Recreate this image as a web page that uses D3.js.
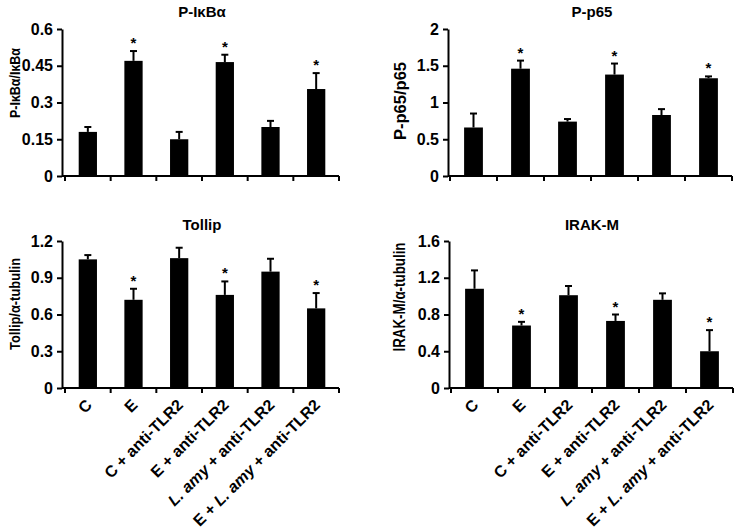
<!DOCTYPE html>
<html><head><meta charset="utf-8">
<script src="https://cdn.jsdelivr.net/npm/d3@7"></script>
<style>
body{margin:0;background:#fff;}
svg{display:block;font-family:"Liberation Sans",Arial,sans-serif;font-weight:bold;}
</style></head>
<body><svg id="c" width="739" height="529"></svg>
<script>
const categories = ["C","E","C + anti-TLR2","E + anti-TLR2","L. amy + anti-TLR2","E + L. amy + anti-TLR2"];
const significant = [false,true,false,true,false,true];

const pIkBaValues = [0.18,0.47,0.15,0.465,0.2,0.355];
const pIkBaErrors = [0.02,0.04,0.03,0.03,0.025,0.065];
const pIkBaTicks = [0,0.15,0.3,0.45,0.6];

const pp65Values = [0.66,1.46,0.74,1.38,0.83,1.33];
const pp65Errors = [0.19,0.11,0.035,0.15,0.08,0.025];
const pp65Ticks = [0,0.5,1,1.5,2];

const tollipValues = [1.05,0.72,1.06,0.76,0.95,0.65];
const tollipErrors = [0.035,0.09,0.085,0.11,0.105,0.125];
const tollipTicks = [0,0.3,0.6,0.9,1.2];

const irakmValues = [1.08,0.68,1.01,0.73,0.96,0.40];
const irakmErrors = [0.2,0.04,0.1,0.07,0.07,0.23];
const irakmTicks = [0,0.4,0.8,1.2,1.6];

const svg = d3.select("#c");

const panels = [
  {title:"P-IκBα", ylabel:"P-IκBα/IκBα", values:pIkBaValues, errors:pIkBaErrors, ticks:pIkBaTicks,
   ax:62, x0:65, x1:339, yTop:29, yBot:176, tx:202, ty:17, lx:15, ly:83, lsize:14.5, len:70, xlabels:false},
  {title:"P-p65", ylabel:"P-p65/p65", values:pp65Values, errors:pp65Errors, ticks:pp65Ticks,
   ax:448, x0:450, x1:732, yTop:29, yBot:176, tx:592, ty:17, lx:400, ly:101, lsize:17, len:78, xlabels:false},
  {title:"Tollip", ylabel:"Tollip/α-tubulin", values:tollipValues, errors:tollipErrors, ticks:tollipTicks,
   ax:62, x0:65, x1:339, yTop:241, yBot:388, tx:202, ty:230, lx:15, ly:304, lsize:14.5, len:92, xlabels:true},
  {title:"IRAK-M", ylabel:"IRAK-M/α-tubulin", values:irakmValues, errors:irakmErrors, ticks:irakmTicks,
   ax:449, x0:451, x1:733, yTop:241, yBot:388, tx:592, ty:230, lx:399, ly:297, lsize:17, len:109, xlabels:true}
];

panels.forEach(p => {
  const g = svg.append("g");
  const x = d3.scaleBand().domain(categories).range([p.x0, p.x1]).padding(0);
  const y = d3.scaleLinear().domain([p.ticks[0], p.ticks[p.ticks.length-1]]).range([p.yBot, p.yTop]);
  const bw = x.bandwidth()*0.4;

  g.selectAll("rect.bar").data(p.values).join("rect")
    .attr("x",(d,i)=>x(categories[i])+x.bandwidth()/2-bw/2)
    .attr("y",d=>y(d)).attr("width",bw).attr("height",d=>y(0)-y(d)).attr("fill","#000");
  p.values.forEach((v,i)=>{
    const cx = x(categories[i])+x.bandwidth()/2;
    const top = y(v+p.errors[i]);
    g.append("line").attr("x1",cx).attr("x2",cx).attr("y1",y(v)).attr("y2",top).attr("stroke","#000").attr("stroke-width",2);
    g.append("line").attr("x1",cx-3.5).attr("x2",cx+3.5).attr("y1",top).attr("y2",top).attr("stroke","#000").attr("stroke-width",2);
    if(significant[i]) g.append("text").attr("x",cx).attr("y",top-3).attr("text-anchor","middle")
      .attr("font-size",15).text("*");
  });

  const ya = g.append("g").attr("transform",`translate(${p.ax},0)`)
    .call(d3.axisLeft(y).tickValues(p.ticks).tickFormat(d=>String(d)).tickSize(5).tickSizeOuter(0).tickPadding(4));
  ya.select(".domain").attr("stroke-width",2);
  ya.selectAll(".tick line").attr("stroke-width",2);
  ya.selectAll(".tick text").attr("font-size",16).attr("font-family","Liberation Sans, Arial, sans-serif").attr("font-weight","bold").attr("fill","#000");

  const xa = g.append("g").attr("transform",`translate(0,${p.yBot})`);
  xa.append("line").attr("x1",p.ax).attr("x2",p.x1).attr("stroke","#000").attr("stroke-width",2);
  const edges = categories.map(c=>x(c)).concat([p.x1]);
  xa.selectAll("line.tk").data(edges).join("line").attr("class","tk")
    .attr("x1",d=>d).attr("x2",d=>d).attr("y1",0).attr("y2",5).attr("stroke","#000").attr("stroke-width",2);

  if(p.xlabels){
    categories.forEach(c=>{
      const cx = x(c)+x.bandwidth()/2 + 5;
      const t = xa.append("text").attr("transform",`translate(${cx},18) rotate(-45)`)
        .attr("text-anchor","end").attr("font-size",16);
      const parts = c.split("L. amy");
      parts.forEach((s,k)=>{
        if(k>0) t.append("tspan").attr("font-style","italic").text("L. amy");
        if(s) t.append("tspan").text(s);
      });
    });
  }

  g.append("text").attr("x",p.tx).attr("y",p.ty).attr("text-anchor","middle").attr("font-size",15).text(p.title);
  g.append("text").attr("transform",`translate(${p.lx},${p.ly}) rotate(-90)`).attr("text-anchor","middle")
    .attr("dy","0.35em").attr("font-size",p.lsize)
    .attr("textLength",p.len).attr("lengthAdjust","spacingAndGlyphs").text(p.ylabel);
});
</script></body></html>
